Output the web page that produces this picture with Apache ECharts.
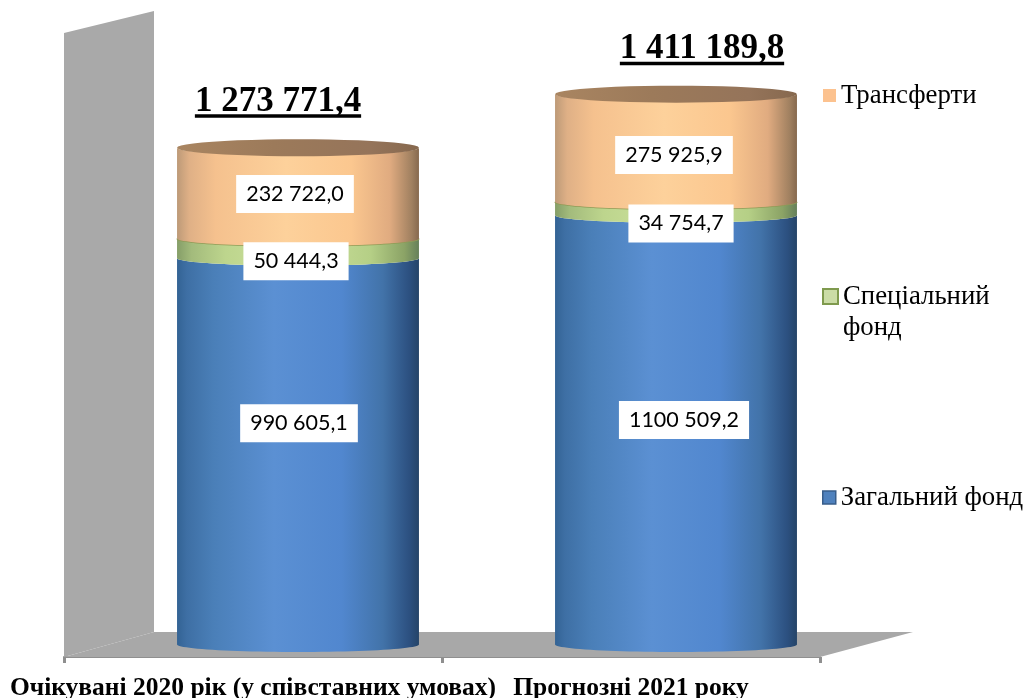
<!DOCTYPE html>
<html><head><meta charset="utf-8">
<style>html,body{margin:0;padding:0;background:#fff}#c{width:1028px;height:698px}</style>
<script src="https://cdn.jsdelivr.net/npm/echarts@6/dist/echarts.min.js"></script>
</head><body><div id="c"></div>
<script>
const categories = ['Очікувані 2020 рік (у співставних умовах)', 'Прогнозні 2021 року'];
const generalFund = [990605.1, 1100509.2];
const specialFund = [50444.3, 34754.7];
const transfers = [232722.0, 275925.9];
const totals = [1273771.4, 1411189.8];
const generalLabels = ['990 605,1', '1100 509,2'];
const specialLabels = ['50 444,3', '34 754,7'];
const transferLabels = ['232 722,0', '275 925,9'];
const totalLabels = ['1 273 771,4', '1 411 189,8'];
const legendNames = ['Трансферти', 'Спеціальний фонд', 'Загальний фонд'];

const SERIF = '"Liberation Serif","Times New Roman",serif';
const DEPTH_X = 90, DEPTH_Y = 25;
const RY = 7.5;

function grad(stops){ return new echarts.graphic.LinearGradient(0,0,1,0,stops.map(s=>({offset:s[0],color:s[1]}))); }
const blueGrad = () => grad([[0,'#336394'],[0.04,'#3e6fa4'],[0.15,'#4a7fb8'],[0.4,'#5b90d3'],[0.68,'#5187cf'],[0.85,'#4273a9'],[0.96,'#2c5080'],[1,'#254468']]);
const greenGrad = () => grad([[0,'#859e68'],[0.06,'#a3bb7c'],[0.2,'#bdd58d'],[0.5,'#cfe3a0'],[0.8,'#b5cf86'],[0.94,'#8ba366'],[1,'#66805a']]);
const orangeGrad = () => grad([[0,'#bd9a78'],[0.05,'#dfb086'],[0.16,'#f5c18e'],[0.45,'#fdd19b'],[0.72,'#fbc78f'],[0.88,'#e0ab80'],[0.97,'#a08060'],[1,'#86694e']]);
const capGrad = () => grad([[0,'#a98561'],[0.4,'#9c7a5a'],[0.8,'#95745a'],[1,'#86684e']]);

function arc(cx, cy, rx, ry, from, to){
  const pts = [];
  for (let i = 0; i <= 48; i++){
    const t = from + (to - from) * i / 48;
    pts.push([cx + rx * Math.cos(t), cy + ry * Math.sin(t)]);
  }
  return pts;
}

function segmentSeries(name, values, labels, fill, edge, nudge, baseValues){
  return {
    name, type: 'custom', z: 3,
    itemStyle: {color: edge.legend},
    data: values.map((v,i)=>[i, baseValues[i], baseValues[i]+v]),
    encode: {x:0, y:[1,2]},
    renderItem(params, api){
      const i = api.value(0);
      const lo = api.coord([i, api.value(1)]);
      const hi = api.coord([i, api.value(2)]);
      const rx = api.size([1,0])[0] * 0.32;
      const cx = lo[0] + DEPTH_X/2;
      const yLo = lo[1] - DEPTH_Y/2, yHi = hi[1] - DEPTH_Y/2;
      const pts = arc(cx, yHi, rx, RY, Math.PI, 0).concat(arc(cx, yLo, rx, RY, 0, Math.PI));
      const children = [{type:'polygon', shape:{points: pts}, style:{fill: fill()}}];
      if (edge.line) children.push({type:'polyline', shape:{points: arc(cx, yHi, rx, RY, 0, Math.PI)}, style:{fill:'none', stroke: edge.line, lineWidth:1.5}});
      if (edge.cap) children.push({type:'polygon', shape:{points: arc(cx, yHi, rx, RY + 1, 0, Math.PI*2)}, style:{fill: capGrad()}});
      children.push({type:'text', style:{
        text: labels[i], x: cx + nudge[i][0], y: (yLo+yHi)/2 + nudge[i][1],
        align:'center', verticalAlign:'middle', fill:'#000',
        font:'21.5px Lato, "Open Sans", sans-serif',
        backgroundColor:'#fff', padding:[8,10,8,10]
      }, z2: 10});
      return {type:'group', children};
    }
  };
}

const base0 = [0,0];
const base1 = generalFund.slice();
const base2 = generalFund.map((v,i)=>v+specialFund[i]);
const measure = document.createElement('canvas').getContext('2d');

const option = {
  animation:false,
  backgroundColor:'#fff',
  tooltip:{show:false},
  grid:{left:64, right:208, top:33, bottom:41, outerBoundsMode:'none'},
  xAxis:{type:'category', data:categories,
    axisLine:{lineStyle:{color:'#8f8f8f',width:2}},
    axisTick:{show:true,length:6,lineStyle:{color:'#8f8f8f',width:3}},
    axisLabel:{interval:0,hideOverlap:false,margin:18,color:'#000',fontFamily:SERIF,fontWeight:'bold',fontSize:25.5}
  },
  yAxis:{type:'value',min:0,max:1600000,show:false},
  legend:[
    {data:[{name:legendNames[0],icon:'rect',itemStyle:{color:'#fcc28f'}}],left:823,top:82,itemWidth:13,itemHeight:13,selectedMode:false,padding:0,itemGap:0,
     textStyle:{fontFamily:SERIF,fontSize:26.8,color:'#000'}},
    {data:[{name:legendNames[1],icon:'rect',itemStyle:{color:'#cbdca6',borderColor:'#7f9a4e',borderWidth:2}}],left:822,top:250,itemWidth:15,itemHeight:15,selectedMode:false,padding:0,itemGap:0,
     formatter:()=>'\nСпеціальний\nфонд',
     textStyle:{fontFamily:SERIF,fontSize:26.8,lineHeight:31,color:'#000'}},
    {data:[{name:legendNames[2],icon:'rect',itemStyle:{color:'#4f81bd',borderColor:'#385d8a',borderWidth:1.5}}],left:822,top:484,itemWidth:13,itemHeight:13,selectedMode:false,padding:0,itemGap:0,
     textStyle:{fontFamily:SERIF,fontSize:26.8,color:'#000'}}
  ],
  series:[
    {type:'custom', name:'Стінка', z:1, silent:true, data:[[0,0]], encode:{x:0,y:1},
     renderItem(params){
       const c = params.coordSys;
       const L=c.x, R=c.x+c.width, T=c.y, B=c.y+c.height;
       return {type:'group',children:[
         {type:'polygon',shape:{points:[[L,T],[L+DEPTH_X,T-DEPTH_Y+3],[L+DEPTH_X,B-DEPTH_Y],[L,B]]},style:{fill:'#a9a9a9'}},
         {type:'polygon',shape:{points:[[L,B],[L+DEPTH_X,B-DEPTH_Y],[R+DEPTH_X+3,B-DEPTH_Y],[R,B]]},style:{fill:'#a8a8a8'}}
       ]};
     }},
    segmentSeries(legendNames[2], generalFund, generalLabels, blueGrad, {legend:'#4f81bd'}, [[1,-28],[8,-10]], base0),
    segmentSeries(legendNames[1], specialFund, specialLabels, greenGrad, {legend:'#cbdca6',line:'#8f9a55'}, [[-2,13],[5,15]], base1),
    segmentSeries(legendNames[0], transfers, transferLabels, orangeGrad, {legend:'#fcc28f',cap:true}, [[-3,1],[-2,7]], base2),
    {type:'custom', name:'Разом', z:4, silent:true, data:totals.map((v,i)=>[i,v]), encode:{x:0,y:1},
     renderItem(params, api){
       const i = api.value(0);
       const p = api.coord([i, api.value(1)]);
       const cx = p[0] + DEPTH_X/2 + (i===0?-20:26);
       const cy = p[1] - DEPTH_Y/2 - 50 + (i===0?0:1);
       const font = 'bold 35px '+SERIF;
       measure.font = font;
       const w = measure.measureText(totalLabels[i]).width;
       return {type:'group',children:[
         {type:'text',style:{text:totalLabels[i],x:cx,y:cy+4,align:'center',verticalAlign:'middle',font,fill:'#000'}},
         {type:'rect',shape:{x:cx-w/2,y:cy+16.5,width:w,height:3.5},style:{fill:'#000'}}
       ]};
     }}
  ]
};
echarts.init(document.getElementById('c'),null,{renderer:'canvas'}).setOption(option);
</script></body></html>
